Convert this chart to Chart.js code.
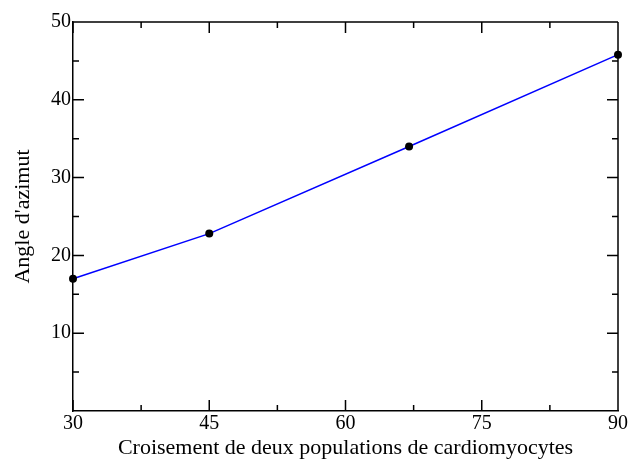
<!DOCTYPE html>
<html>
<head>
<meta charset="utf-8">
<script src="https://cdn.jsdelivr.net/npm/chart.js@4.4.1/dist/chart.umd.min.js"></script>
<style>
  html, body { margin: 0; padding: 0; background: #fff; }
  #wrap { width: 629px; height: 459px; }
</style>
</head>
<body>
<div id="wrap"><canvas id="chart"></canvas></div>
<script>
// data
const crossings = [30, 45, 67, 90];
const azimuth = [17.0, 22.8, 34.0, 45.8];
const xMajor = [30, 45, 60, 75, 90];
const xMinor = [37.5, 52.5, 67.5, 82.5];
const yMajor = [10, 20, 30, 40, 50];
const yMinor = [5, 15, 25, 35, 45];

const serif = '"Liberation Serif", "Times New Roman", serif';

// inward tick marks on all four sides + top/right frame
const frameTicks = {
    id: 'frameTicks',
    afterDraw(chart) {
        const { ctx, chartArea: a, scales: { x, y } } = chart;
        ctx.save();
        ctx.strokeStyle = '#000';
        ctx.lineWidth = 1.5;
        ctx.beginPath();
        ctx.moveTo(a.left, a.top); ctx.lineTo(a.right, a.top);
        ctx.moveTo(a.right, a.top); ctx.lineTo(a.right, a.bottom);
        const markX = (vals, len) => {
            vals.forEach(v => {
                const px = x.getPixelForValue(v);
                ctx.moveTo(px, a.bottom); ctx.lineTo(px, a.bottom - len);
                ctx.moveTo(px, a.top); ctx.lineTo(px, a.top + len);
            });
        };
        const markY = (vals, len) => {
            vals.forEach(v => {
                const py = y.getPixelForValue(v);
                ctx.moveTo(a.left, py); ctx.lineTo(a.left + len, py);
                ctx.moveTo(a.right, py); ctx.lineTo(a.right - len, py);
            });
        };
        markX(xMajor, 11); markX(xMinor, 6);
        markY(yMajor, 11); markY(yMinor, 6);
        ctx.stroke();
        ctx.restore();
    }
};

new Chart(document.getElementById('chart'), {
    type: 'line',
    data: {
        datasets: [{
            data: crossings.map((c, i) => ({ x: c, y: azimuth[i] })),
            borderColor: '#0000ff',
            borderWidth: 1.5,
            pointRadius: 4,
            pointBackgroundColor: '#000',
            pointBorderColor: '#000',
            pointBorderWidth: 0,
            tension: 0,
            clip: false
        }]
    },
    options: {
        responsive: true,
        maintainAspectRatio: false,
        animation: false,
        layout: { padding: { left: 0, right: 11, top: 22, bottom: 0 } },
        plugins: { legend: { display: false }, tooltip: { enabled: false } },
        scales: {
            x: {
                type: 'linear', min: 30, max: 90,
                afterFit: s => { s.height = 48; },
                grid: { display: false, drawTicks: false },
                border: { display: true, color: '#000', width: 1.5 },
                ticks: {
                    stepSize: 15, padding: 1, color: '#000',
                    font: { family: serif, size: 20 },
                    maxRotation: 0, autoSkip: false
                },
                title: {
                    display: true, text: 'Croisement de deux populations de cardiomyocytes',
                    color: '#000', font: { family: serif, size: 22, lineHeight: 1 },
                    padding: { top: 0, bottom: 0 }
                }
            },
            y: {
                min: 0, max: 50,
                afterFit: s => { s.width = 73; },
                grid: { display: false, drawTicks: false },
                border: { display: true, color: '#000', width: 1.5 },
                ticks: {
                    stepSize: 10, padding: 2, color: '#000',
                    font: { family: serif, size: 20 },
                    callback: v => (v === 0 ? '' : v)
                },
                title: {
                    display: true, text: "Angle d'azimut",
                    color: '#000', font: { family: serif, size: 22, lineHeight: 1 },
                    padding: { top: 12, bottom: 0 }
                }
            }
        }
    },
    plugins: [frameTicks]
});
</script>
</body>
</html>
